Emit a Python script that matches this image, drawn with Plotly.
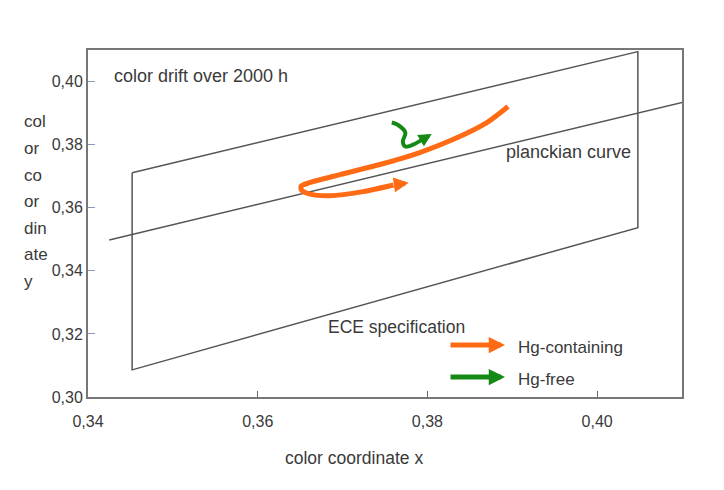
import plotly.graph_objects as go

# ---------------- data ----------------
ece_x = [0.3452, 0.4048, 0.4048, 0.3452, 0.3452]
ece_y = [0.3711, 0.4095, 0.3537, 0.3086, 0.3711]

planck_x = [0.3425, 0.4105]
planck_y = [0.3498, 0.3937]

hg_x = [0.3895, 0.3870, 0.3830, 0.3791, 0.3744, 0.3697, 0.3662, 0.3651, 0.3652, 0.3662, 0.3685, 0.3724, 0.3760]
hg_y = [0.3921, 0.3870, 0.3816, 0.3775, 0.3737, 0.3705, 0.3680, 0.3668, 0.3655, 0.3643, 0.3638, 0.3651, 0.3672]
hg_tip = (0.3778, 0.3679)

free_x = [0.3758, 0.3765, 0.3774, 0.3771, 0.3774, 0.3783, 0.3794]
free_y = [0.3870, 0.3863, 0.3838, 0.3810, 0.3794, 0.3800, 0.3816]
free_tip = (0.3805, 0.3834)

x_ticks = [0.34, 0.36, 0.38, 0.40]
y_ticks = [0.30, 0.32, 0.34, 0.36, 0.38, 0.40]

y_title_parts = ["col", "or", "co", "or", "din", "ate", "y"]
x_title = "color coordinate x"
legend_names = ["Hg-containing", "Hg-free"]

ORANGE = "#ff6a14"
GREEN = "#148a14"
LINE = "#555555"
TXT = "#3a3a3a"
FONT = "Liberation Sans, Arial, sans-serif"

# ---------------- layout geometry ----------------
W, H = 724, 490
L, R, T, B = 88, 682, 50, 397


def px_x(p):
    return (p - L) / (R - L)


def px_y(p):
    return (B - p) / (B - T)


fig = go.Figure()

fig.add_trace(go.Scatter(x=ece_x, y=ece_y, mode="lines",
                         line=dict(color=LINE, width=1.5), hoverinfo="skip"))
fig.add_trace(go.Scatter(x=planck_x, y=planck_y, mode="lines",
                         line=dict(color=LINE, width=1.5), hoverinfo="skip"))
fig.add_trace(go.Scatter(x=hg_x, y=hg_y, mode="lines",
                         line=dict(color=ORANGE, width=5, shape="spline", smoothing=0.8),
                         name=legend_names[0]))
fig.add_trace(go.Scatter(x=free_x, y=free_y, mode="lines",
                         line=dict(color=GREEN, width=4, shape="spline", smoothing=0.9),
                         name=legend_names[1]))

ann = []
# curve arrowheads
ann.append(dict(x=hg_tip[0], y=hg_tip[1], ax=hg_x[-1], ay=hg_y[-1],
                xref="x", yref="y", axref="x", ayref="y", text="",
                showarrow=True, arrowhead=2, arrowsize=0.6, arrowwidth=5,
                arrowcolor=ORANGE))
ann.append(dict(x=free_tip[0], y=free_tip[1], ax=free_x[-1], ay=free_y[-1],
                xref="x", yref="y", axref="x", ayref="y", text="",
                showarrow=True, arrowhead=2, arrowsize=0.65, arrowwidth=4,
                arrowcolor=GREEN))

# legend arrows + labels
for i, (col, yp) in enumerate([(ORANGE, 345), (GREEN, 377)]):
    ann.append(dict(x=px_x(505), y=px_y(yp), ax=px_x(449), ay=px_y(yp),
                    xref="x domain", yref="y domain", axref="x domain", ayref="y domain",
                    text="", showarrow=True, arrowhead=2, arrowsize=0.65,
                    arrowwidth=5, arrowcolor=col))
    ann.append(dict(x=px_x(516), y=px_y(yp + 2), xref="x domain", yref="y domain",
                    text=legend_names[i], showarrow=False, xanchor="left", yanchor="middle",
                    font=dict(family=FONT, size=17, color=TXT)))

# text labels
labels = [("color drift over 2000 h", 112, 76, "left", 18),
          ("planckian curve", 504, 152, "left", 18),
          ("ECE specification", 326, 327, "left", 17.5),
          (x_title, 354, 458, "center", 17.5)]
for txt, xp, yp, anc, fs in labels:
    ann.append(dict(x=px_x(xp), y=px_y(yp), xref="x domain", yref="y domain",
                    text=txt, showarrow=False, xanchor=anc, yanchor="middle",
                    font=dict(family=FONT, size=fs, color=TXT)))

for i, part in enumerate(y_title_parts):
    ann.append(dict(x=px_x(22), y=px_y(122 + 26.5 * i), xref="x domain", yref="y domain",
                    text=part, showarrow=False, xanchor="left", yanchor="middle",
                    font=dict(family=FONT, size=17, color=TXT)))

fig.update_layout(
    width=W, height=H,
    margin=dict(l=L, r=W - R, t=T, b=H - B, pad=0),
    paper_bgcolor="white", plot_bgcolor="white",
    showlegend=False,
    separators=", ",
    annotations=ann,
    font=dict(family=FONT, size=16, color=TXT),
)
fig.update_xaxes(range=[0.34, 0.41], tickvals=x_ticks, tickformat=".2f",
                 showgrid=False, zeroline=False, showline=True, linecolor="#777777",
                 linewidth=2, mirror=True, ticks="inside", ticklen=6, tickcolor="#666666",
                 ticklabelstandoff=9,
                 tickfont=dict(family=FONT, size=16, color=TXT))
fig.update_yaxes(range=[0.30, 0.41], tickvals=y_ticks, tickformat=".2f",
                 showgrid=False, zeroline=False, showline=True, linecolor="#777777",
                 linewidth=2, mirror=True, ticks="inside", ticklen=7, tickcolor="#8899bb",
                 ticklabelstandoff=0,
                 tickfont=dict(family=FONT, size=16, color=TXT))

fig.write_html("out.html")
